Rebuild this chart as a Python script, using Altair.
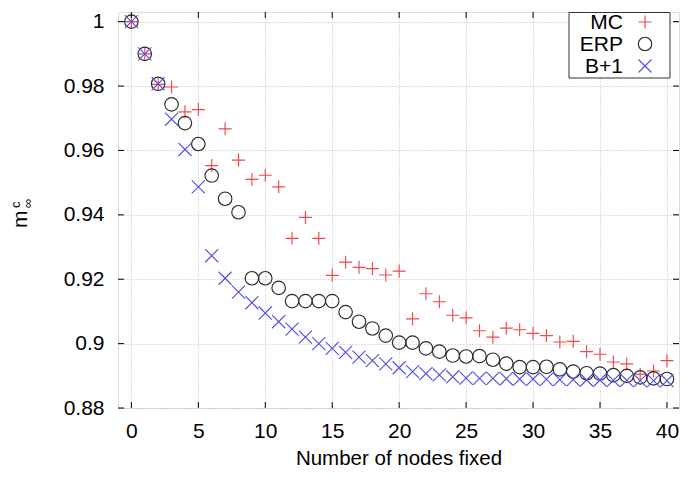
import altair as alt
import pandas as pd

nodes = list(range(0, 41))
mc = [1.0, 0.990, 0.9805, 0.9797, 0.972, 0.9727, 0.9553, 0.9667, 0.957, 0.951,
      0.9523, 0.9487, 0.9327, 0.9392, 0.9327, 0.9212, 0.9253, 0.9237, 0.9233, 0.9213,
      0.9225, 0.9077, 0.9155, 0.913, 0.9088, 0.908, 0.904, 0.902, 0.9048, 0.9043,
      0.9032, 0.9025, 0.9005, 0.9007, 0.8975, 0.8967, 0.8943, 0.8937, 0.8905, 0.8915,
      0.8947]
erp = [1.0, 0.99, 0.9807, 0.9743, 0.9685, 0.962, 0.9522, 0.945, 0.9408, 0.9203,
       0.9203, 0.9173, 0.9132, 0.9132, 0.9132, 0.9132, 0.9098, 0.9068, 0.9047, 0.9025,
       0.9003, 0.9003, 0.8985, 0.8975, 0.8963, 0.896, 0.8961, 0.895, 0.8938, 0.8927,
       0.8927, 0.8928, 0.892, 0.8913, 0.8908, 0.8907, 0.8902, 0.89, 0.8895, 0.8892,
       0.889]
bp1 = [1.0, 0.99, 0.9807, 0.9697, 0.9603, 0.9487, 0.9273, 0.9203, 0.916, 0.9127,
       0.9095, 0.9068, 0.9045, 0.902, 0.900, 0.8985, 0.8973, 0.8958, 0.8947, 0.8937,
       0.8925, 0.8913, 0.8907, 0.8903, 0.8897, 0.8893, 0.8892, 0.8892, 0.8891, 0.889,
       0.889, 0.8889, 0.8888, 0.8888, 0.8887, 0.8887, 0.8886, 0.8886, 0.8885, 0.8885,
       0.8885]
series = ["MC", "ERP", "B+1"]
x_ticks = [0, 5, 10, 15, 20, 25, 30, 35, 40]
y_ticks = [0.88, 0.9, 0.92, 0.94, 0.96, 0.98, 1.0]

W, H = 561, 396
FONT = "Liberation Sans"
PLUS = "M-1,0L1,0M0,-1L0,1"
CROSS = "M-1,-1L1,1M-1,1L1,-1"
RED, BLACK, BLUE = "#f24848", "#2a2a2a", "#5050e6"
SW = 1.15

x_scale = alt.Scale(domain=[-1, 40.9], nice=False, zero=False)
y_scale = alt.Scale(domain=[0.88, 1.003], nice=False, zero=False)

df = pd.DataFrame({"x": nodes, "MC": mc, "ERP": erp, "B+1": bp1})
long = df.melt("x", var_name="s", value_name="y")

def pts(name, shape, color, size):
    return alt.Chart(long[long.s == name]).mark_point(
        shape=shape, filled=False, stroke=color, strokeWidth=SW, size=size, opacity=1
    ).encode(
        x=alt.X("x:Q", scale=x_scale,
                axis=alt.Axis(values=x_ticks, title="Number of nodes fixed", ticks=False,
                              domain=False, grid=True, gridDash=[1, 2], gridColor="#bdbdbd",
                              labelFont=FONT, labelFontSize=21, labelColor="black",
                              labelPadding=12, titleFont=FONT, titleFontSize=20.5,
                              titleFontWeight="normal", titleColor="black", titlePadding=7)),
        y=alt.Y("y:Q", scale=y_scale,
                axis=alt.Axis(values=y_ticks, title=None, ticks=False, domain=False,
                              grid=True, gridDash=[1, 2], gridColor="#bdbdbd",
                              labelExpr="format(datum.value, '~g')",
                              labelFont=FONT, labelFontSize=21, labelColor="black",
                              labelPadding=14)),
    )

mc_l = pts("MC", PLUS, RED, 169)
erp_l = pts("ERP", "circle", BLACK, 182)
bp_l = pts("B+1", CROSS, BLUE, 170)

xt = pd.DataFrame({"x": x_ticks})
yt = pd.DataFrame({"y": y_ticks})
tick_x_bot = alt.Chart(xt).mark_rule(color="black").encode(
    x=alt.X("x:Q", scale=x_scale), y=alt.value(H), y2=alt.value(H - 6))
tick_x_top = alt.Chart(xt).mark_rule(color="black").encode(
    x=alt.X("x:Q", scale=x_scale), y=alt.value(0), y2=alt.value(6))
tick_y_left = alt.Chart(yt).mark_rule(color="black").encode(
    y=alt.Y("y:Q", scale=y_scale), x=alt.value(0), x2=alt.value(6))
tick_y_right = alt.Chart(yt).mark_rule(color="black").encode(
    y=alt.Y("y:Q", scale=y_scale), x=alt.value(W), x2=alt.value(W - 6))

# legend box
leg_box = alt.Chart(pd.DataFrame({"a": [0]})).mark_rect(
    fill="white", stroke="#333", strokeWidth=1
).encode(x=alt.value(451), x2=alt.value(552), y=alt.value(0.5), y2=alt.value(66))

leg_rows = [("MC", PLUS, RED, 169, 10), ("ERP", "circle", BLACK, 182, 32), ("B+1", CROSS, BLUE, 170, 54)]
leg_layers = []
for lab, shp, col, sz, yy in leg_rows:
    leg_layers.append(alt.Chart(pd.DataFrame({"t": [lab]})).mark_text(
        font=FONT, fontSize=21, align="right", baseline="middle", color="black"
    ).encode(text="t:N", x=alt.value(505), y=alt.value(yy + 1)))
    leg_layers.append(alt.Chart(pd.DataFrame({"t": [lab]})).mark_point(
        shape=shp, filled=False, stroke=col, strokeWidth=SW, size=sz, opacity=1
    ).encode(x=alt.value(527), y=alt.value(yy)))

# y-axis title m^c_inf
yt_m = alt.Chart(pd.DataFrame({"t": ["m"]})).mark_text(
    font=FONT, fontSize=21, angle=270, align="left", baseline="alphabetic", color="black"
).encode(text="t:N", x=alt.value(-91), y=alt.value(216))
yt_c = alt.Chart(pd.DataFrame({"t": ["c"]})).mark_text(
    font=FONT, fontSize=13, angle=270, align="left", baseline="alphabetic", color="black"
).encode(text="t:N", x=alt.value(-98), y=alt.value(196))
yt_inf = alt.Chart(pd.DataFrame({"t": ["∞"]})).mark_text(
    font=FONT, fontSize=13, angle=270, align="left", baseline="alphabetic", color="black"
).encode(text="t:N", x=alt.value(-86), y=alt.value(196))

chart = alt.layer(
    mc_l, erp_l, bp_l, tick_x_bot, tick_x_top, tick_y_left, tick_y_right,
    leg_box, *leg_layers, yt_m, yt_c, yt_inf
).properties(
    width=W, height=H,
    autosize=alt.AutoSizeParams(type="none"),
    padding={"left": 110, "top": 4, "right": 2, "bottom": 64},
).configure_view(stroke="black", strokeWidth=1.2).configure(background="white")

chart.save("out.html", embed_options={"renderer": "svg", "actions": False})
